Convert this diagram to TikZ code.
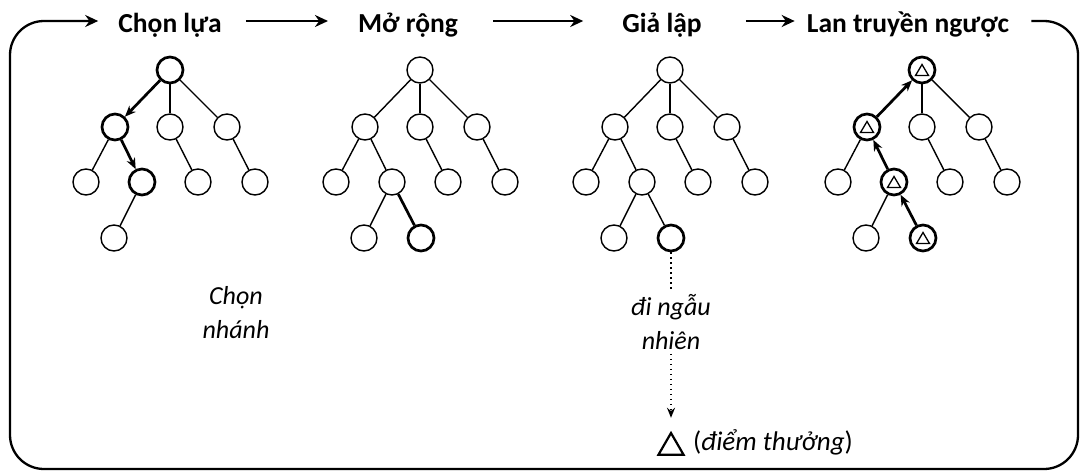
\documentclass[tikz,border=0pt]{standalone}
\usepackage{fontspec}
\setmainfont{Carlito}
\usetikzlibrary{arrows.meta,shapes.geometric}

% One search tree: root #2 on the x axis, node and edge looks taken from
% optional styles named after the node (e.g. t1r) or the edge (e.g. t1ra).
\newcommand\mctstree[2]{%
  \node[vert,#1r/.try] (#1r) at (#2,70) {};
  \node[vert,#1a/.try] (#1a) at (#2-55,127) {};
  \node[vert,#1b/.try] (#1b) at (#2,127) {};
  \node[vert,#1c/.try] (#1c) at (#2+57,127) {};
  \node[vert,#1d/.try] (#1d) at (#2-84,182) {};
  \node[vert,#1e/.try] (#1e) at (#2-28,182) {};
  \node[vert,#1f/.try] (#1f) at (#2+28,182) {};
  \node[vert,#1g/.try] (#1g) at (#2+85,182) {};
  \node[vert,#1h/.try] (#1h) at (#2-56,238) {};
  \draw[edge,#1ra/.try] (#1r) -- (#1a);
  \draw[edge,#1rb/.try] (#1r) -- (#1b);
  \draw[edge,#1rc/.try] (#1r) -- (#1c);
  \draw[edge,#1ad/.try] (#1a) -- (#1d);
  \draw[edge,#1ae/.try] (#1a) -- (#1e);
  \draw[edge,#1bf/.try] (#1b) -- (#1f);
  \draw[edge,#1cg/.try] (#1c) -- (#1g);
  \draw[edge,#1eh/.try] (#1e) -- (#1h);
}
% second child of the expanded node
\newcommand\mctsleaf[2]{%
  \node[vert,#1i/.try] (#1i) at (#2+1,238) {};
  \draw[edge,#1ei/.try] (#1e) -- (#1i);
}

\begin{document}
\begin{tikzpicture}[x=1pt,y=-1pt,
  vert/.style={circle,draw,line width=1.4pt,minimum size=26pt,inner sep=0pt,fill=white},
  edge/.style={line width=1.4pt},
  hot/.style={line width=2.7pt},
  fwd/.style={hot,-{Stealth[length=11pt,width=9pt]}},
  back/.style={hot,{Stealth[length=11pt,width=9pt]}-},
  scored/.style={vert,hot,path picture={
      \draw[line width=1.3pt,line join=miter]
        ([shift={(-6.5pt,-5.5pt)}]path picture bounding box.center)
        -- ++(13pt,0pt) -- ++(-6.5pt,11pt) -- cycle;}},
  head/.style={font=\fontsize{27.5}{32}\selectfont\bfseries,inner sep=0pt,
    text height=22pt,text depth=0pt,anchor=base},
  flow/.style={line width=2.3pt,-{Stealth[length=13pt,width=12pt]}},
  note/.style={font=\fontsize{26}{34}\selectfont\itshape,align=center,inner sep=0pt},
  walkline/.style={line width=1.6pt,dash pattern=on 1.6pt off 3.4pt},
  % selection
  t1r/.style={hot}, t1a/.style={hot}, t1e/.style={hot},
  t1ra/.style={fwd}, t1ae/.style={fwd},
  % expansion
  t2i/.style={hot}, t2ei/.style={hot},
  % simulation
  t3i/.style={hot},
  % backpropagation
  t4r/.style={scored}, t4a/.style={scored}, t4e/.style={scored}, t4i/.style={scored},
  t4ra/.style={back}, t4ae/.style={back}, t4ei/.style={back},
]
\useasboundingbox (0,0) rectangle (1081,471);

% stage titles
\node[head] (h1) at (170,32) {Chọn lựa};
\node[head] (h2) at (408,32) {Mở rộng};
\node[head] (h3) at (662,32) {Giả lập};
\node[head] (h4) at (908,32) {Lan truyền ngược};

\draw[flow,shorten <=24pt,shorten >=30pt] (h1) -- (h2);
\draw[flow,shorten <=35pt,shorten >=39pt] (h2) -- (h3);
\draw[flow,shorten <=44pt,shorten >=12pt] (h3) -- (h4);

% loop back round the frame
\coordinate (br) at (1078,469);
\coordinate (tl) at (10,21);
\draw[flow,rounded corners=34pt]
  ([xshift=22pt]h4.east) -| (br) -| (tl) -- ([xshift=-20pt]h1.west);

% the four trees
\mctstree{t1}{170}
\mctstree{t2}{420}
\mctsleaf{t2}{420}
\mctstree{t3}{670}
\mctsleaf{t3}{670}
\mctstree{t4}{922}
\mctsleaf{t4}{922}

% labels
\node[note] (pick) at (236,313) {Chọn\\nhánh};
\node[note,inner sep=4pt] (walk) at (671,322) {đi ngẫu\\nhiên};

% random playout down to the reward
\node[draw,regular polygon,regular polygon sides=3,minimum size=29pt,
  inner sep=0pt,line width=2.2pt] (reward) at (671,447.5) {};
\node[anchor=base west,inner sep=0pt,font=\fontsize{27}{30}\selectfont]
  (score) at (693,450) {(\textit{điểm thưởng})};
\draw[walkline] (t3i) -- (walk);
\draw[walkline,-{Stealth[length=10pt,width=8pt]},shorten >=13pt] (walk) -- (reward);
\end{tikzpicture}
\end{document}
